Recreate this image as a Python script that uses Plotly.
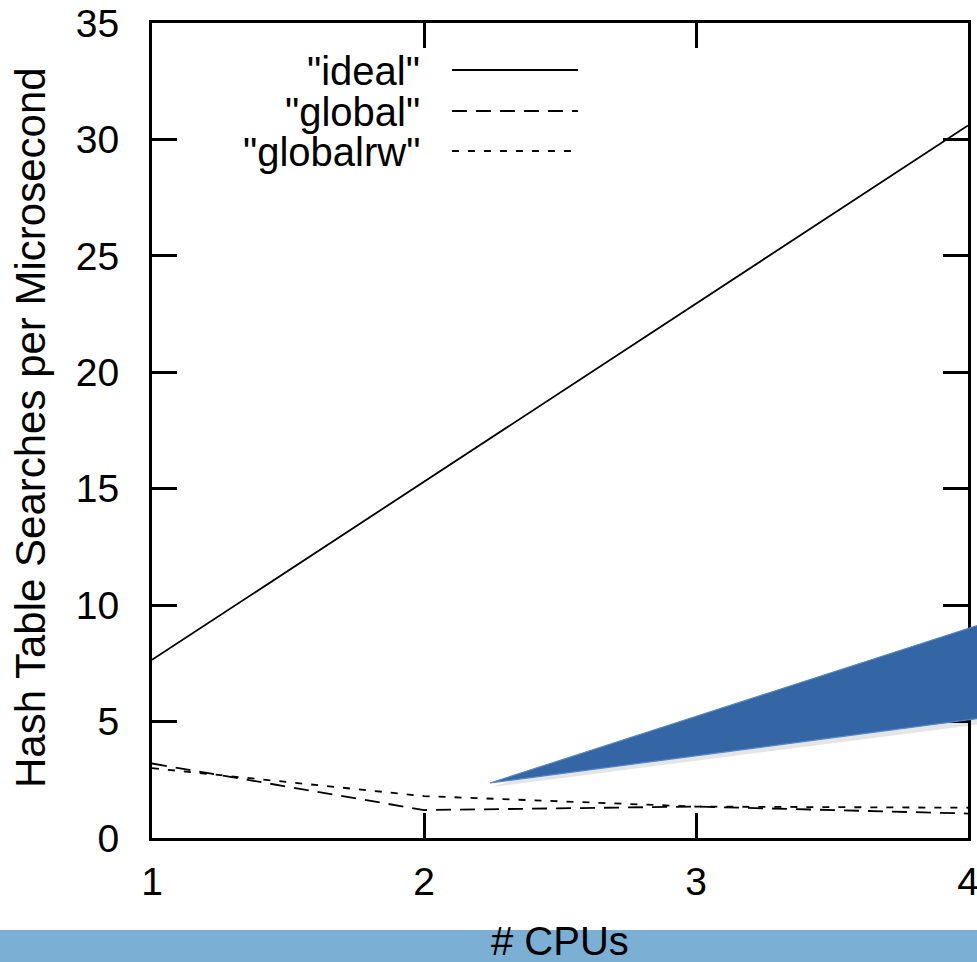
import plotly.graph_objects as go

# ---- data ----
cpus = [1, 2, 3, 4]
ideal = [7.65, 15.3, 22.95, 30.6]
global_lock = [3.2, 1.2, 1.35, 1.05]
globalrw = [3.0, 1.8, 1.35, 1.3]
series_names = ['"ideal"', '"global"', '"globalrw"']
x_title = "# CPUs"
y_title = "Hash Table Searches per Microsecond"
y_ticks = [0, 5, 10, 15, 20, 25, 30, 35]

W, H = 977, 962
L, R, T, B = 152, 968, 23, 838
FONT = "Liberation Sans, Arial, sans-serif"

def px(x):
    return (x - L) / (R - L)

def py(y):
    return (B - y) / (B - T)

dashes = ["solid", "15px,9px", "7px,9px"]
fig = go.Figure()
for name, vals, d in zip(series_names, [ideal, global_lock, globalrw], dashes):
    fig.add_trace(go.Scatter(x=cpus, y=vals, mode="lines", name=name,
                             line=dict(color="black", width=1.8, dash=d),
                             showlegend=False, cliponaxis=True))

shapes = []
# bottom light-blue band
shapes.append(dict(type="rect", xref="paper", yref="paper", layer="below",
                   x0=px(-2), x1=px(W + 2), y0=py(930), y1=py(H + 2),
                   fillcolor="#7bafd4", line=dict(width=0)))
# callout wedge soft shadow
shapes.append(dict(type="path", xref="paper", yref="paper", layer="above",
                   path=f"M {px(492)} {py(787)} L {px(W+5)} {py(628)} L {px(W+5)} {py(724)} Z",
                   fillcolor="rgba(0,0,0,0.10)", line=dict(width=0)))
# callout wedge
shapes.append(dict(type="path", xref="paper", yref="paper", layer="above",
                   path=f"M {px(490)} {py(783)} L {px(W+5)} {py(624)} L {px(W+5)} {py(718)} Z",
                   fillcolor="#3466a5", line=dict(color="#4f86c6", width=1.2)))

annotations = []
# legend
rows = [70, 111, 151]
for name, d, ry in zip(series_names, dashes, rows):
    annotations.append(dict(xref="paper", yref="paper", x=px(422), y=py(ry + 1),
                            text=name, showarrow=False, xanchor="right", yanchor="middle",
                            font=dict(family=FONT, size=40, color="black")))
    shapes.append(dict(type="line", xref="paper", yref="paper",
                       x0=px(452), x1=px(578), y0=py(ry), y1=py(ry),
                       line=dict(color="black", width=1.8, dash=d)))
# axis titles
annotations.append(dict(xref="paper", yref="paper", x=px(560), y=py(941),
                        text=x_title, showarrow=False, xanchor="center", yanchor="middle",
                        font=dict(family=FONT, size=40, color="black")))
annotations.append(dict(xref="paper", yref="paper", x=px(30), y=py(428),
                        text=y_title, showarrow=False, xanchor="center", yanchor="middle",
                        textangle=-90, font=dict(family=FONT, size=42, color="black")))

fig.update_layout(
    width=W, height=H,
    margin=dict(l=L, r=W - R, t=T, b=H - B, pad=0, autoexpand=False),
    paper_bgcolor="white", plot_bgcolor="white",
    shapes=shapes, annotations=annotations,
    font=dict(family=FONT, size=39, color="black"),
    xaxis=dict(range=[1, 4], tickvals=cpus, ticktext=[str(c) for c in cpus],
               automargin=False, ticklabeloverflow="allow",
               showgrid=False, zeroline=False, showline=True, linecolor="black",
               linewidth=3, mirror="ticks", ticks="inside", ticklen=25, tickwidth=3,
               tickcolor="black", ticklabelstandoff=7,
               tickfont=dict(family=FONT, size=39, color="black")),
    yaxis=dict(range=[0, 35], tickvals=y_ticks, automargin=False,
               ticklabeloverflow="allow",
               showgrid=False, zeroline=False, showline=True, linecolor="black",
               linewidth=3, mirror="ticks", ticks="inside", ticklen=25, tickwidth=3,
               tickcolor="black", ticklabelstandoff=22,
               tickfont=dict(family=FONT, size=39, color="black")),
)

fig.write_html("out.html", config={"displayModeBar": False},
               post_script="document.body.style.margin='0';document.body.style.overflow='hidden';")
